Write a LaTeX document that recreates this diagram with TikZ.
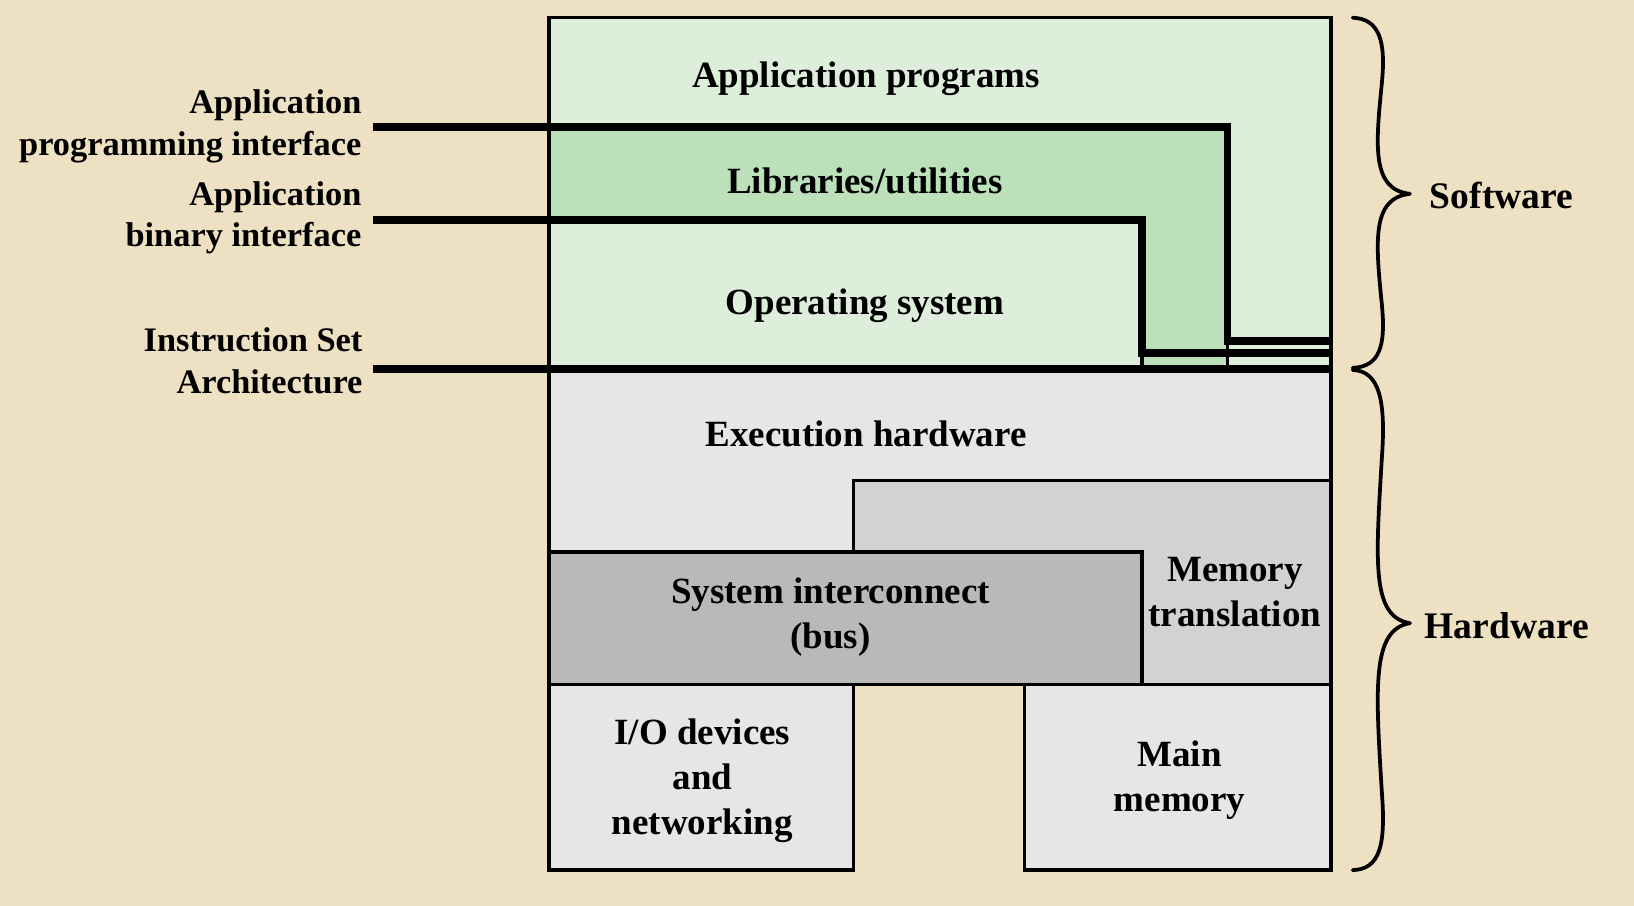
\documentclass[tikz,border=0pt]{standalone}
\usepackage{fontspec}
\setmainfont{Liberation Serif}
\definecolor{bgcol}{HTML}{EEE1C3}
\definecolor{lgreen}{HTML}{DDEFDA}
\definecolor{dgreen}{HTML}{BCE0BA}
\definecolor{lgray}{HTML}{E6E6E6}
\definecolor{mgray}{HTML}{D2D2D2}
\definecolor{dgray}{HTML}{B9B9B9}
\begin{document}
\begin{tikzpicture}[x=1pt,y=-1pt,
  boxtext/.style={font=\fontsize{35.5}{43}\selectfont\bfseries, align=center, inner sep=0pt},
  sidetext/.style={font=\fontsize{33}{40}\selectfont\bfseries, align=right, anchor=east, inner sep=0pt},
  bracetext/.style={font=\fontsize{36}{43}\selectfont\bfseries, inner sep=0pt},
  ifline/.style={line width=7.4pt},
  thinline/.style={line width=3.6pt},
  boxline/.style={line width=3.5pt},
  outline/.style={line width=3.4pt},
  bracestyle/.style={line width=3.6pt, line cap=round, line join=round}]
\fill[bgcol] (0,0) rectangle (1568,869);
\useasboundingbox (0,0) rectangle (1568,869);

% ---------- software layers ----------
\fill[lgreen] (527,17) rectangle (1277,354);
\fill[dgreen] (527,122) -- (1178,122) -- (1178,354) -- (1096,354) -- (1096,211) -- (527,211) -- cycle;

% ---------- hardware layers ----------
\draw[boxline, fill=lgray] (527,354) rectangle (1277,530);
\draw[boxline, fill=mgray] (819,461) rectangle (1277,657);
\draw[boxline, fill=dgray] (527,530) rectangle (1096,657);
\draw[boxline, fill=lgray] (527,657) rectangle (819,835);
\draw[boxline, fill=lgray] (983,657) rectangle (1277,835);

% ---------- outer software border ----------
\draw[outline] (527,17) rectangle (1277,354);

% ---------- interface lines ----------
\coordinate (apiStart) at (358,122);
\coordinate (apiBend) at (1178,122);
\coordinate (apiLow) at (1178,327);
\coordinate (apiEnd) at (1277,327);
\coordinate (abiStart) at (358,211);
\coordinate (abiBend) at (1096,211);
\coordinate (abiLow) at (1096,339);
\coordinate (abiEnd) at (1277,339);
\coordinate (isaStart) at (358,354);
\coordinate (isaEnd) at (1277,354);
\coordinate (apiFoot) at (1178,354);
\coordinate (abiFoot) at (1096,354);

\draw[thinline] (apiLow) -- (apiFoot);
\draw[thinline] (abiLow) -- (abiFoot);
\draw[ifline] (apiStart) -- (apiBend) -- (apiLow) -- (apiEnd);
\draw[ifline] (abiStart) -- (abiBend) -- (abiLow) -- (abiEnd);
\draw[ifline] (isaStart) -- (isaEnd);

% ---------- box texts ----------
\node[boxtext] (apps) at (831,76) {Application programs};
\node[boxtext] (libs) at (830,174) {Libraries/utilities};
\node[boxtext] (os) at (830,293) {Operating system};
\node[boxtext] (exec) at (831,416) {Execution hardware};
\node[boxtext] (bus) at (797,592) {System interconnect\\(bus)};
\node[boxtext] (mem) at (1185,568) {Memory\\translation};
\node[boxtext] (io) at (674,749) {I/O devices\\and\\networking};
\node[boxtext] (main) at (1132,749) {Main\\memory};

% ---------- side labels ----------
\node[sidetext] (api) at (347,121) {Application\\programming interface};
\node[sidetext] (abi) at (347,209) {Application\\binary interface};
\node[sidetext] (isa) at (348,346) {Instruction Set\\Architecture};

% ---------- braces ----------
\draw[bracestyle] (1298,17) .. controls (1324,18) and (1330,40) .. (1326,80)
  .. controls (1320,140) and (1316,182) .. (1353,186)
  .. controls (1316,190) and (1320,232) .. (1326,292)
  .. controls (1330,332) and (1324,352) .. (1298,353);
\draw[bracestyle] (1298,355) .. controls (1324,356) and (1330,385) .. (1326,440)
  .. controls (1320,540) and (1316,592) .. (1353,598)
  .. controls (1316,604) and (1320,660) .. (1326,760)
  .. controls (1330,812) and (1324,834) .. (1298,835);
\node[bracetext, anchor=west] (sw) at (1372,188) {Software};
\node[bracetext, anchor=west] (hw) at (1367,600) {Hardware};
\end{tikzpicture}
\end{document}
